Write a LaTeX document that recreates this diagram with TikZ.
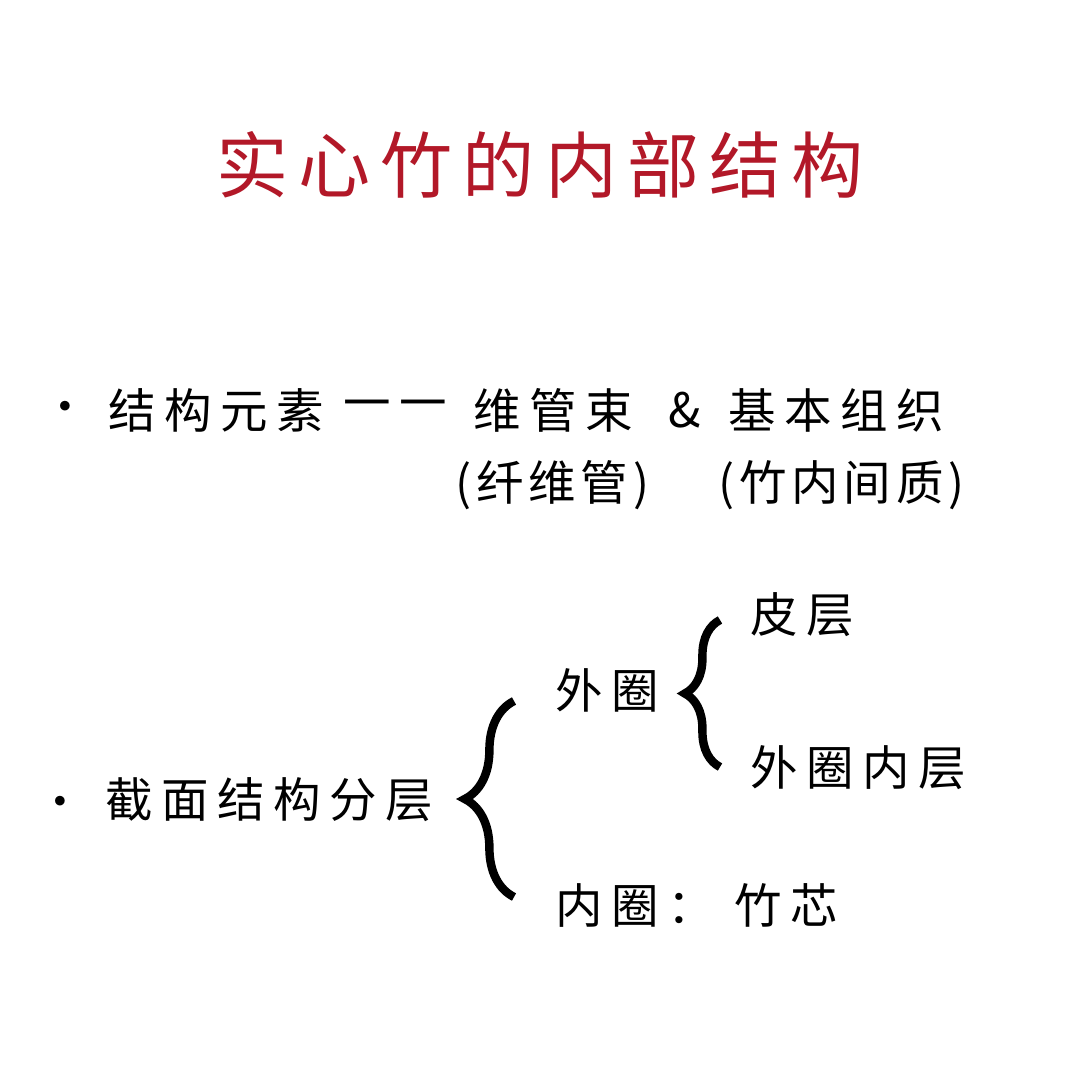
\documentclass[tikz,border=0pt]{standalone}
\usepackage{fontspec}
\setmainfont{Noto Sans CJK SC}
\usetikzlibrary{decorations.pathreplacing}
\definecolor{titlered}{RGB}{178,24,40}
\tikzset{body/.style={anchor=west,inner sep=0pt,font=\fontsize{13.5}{16}\selectfont\addfontfeature{LetterSpace=18}},
 paren/.style={body,font=\fontsize{13.5}{16}\selectfont\addfontfeature{LetterSpace=10}},
 dot/.style={anchor=center,inner sep=0pt,font=\fontsize{13}{14}\selectfont},
 brc/.style={decorate,decoration={brace,amplitude=#1},line width=2.4pt}}
\begin{document}
\begin{tikzpicture}[x=0.01cm,y=-0.01cm]
\useasboundingbox (0,0) rectangle (1080,1080);
\fill[white] (0,0) rectangle (1080,1080);
\node[inner sep=0pt,text=titlered,font=\fontsize{20.5}{24}\selectfont\addfontfeature{LetterSpace=14}] (title) at (540,165) {实心竹的内部结构};
\node[dot] (b1) at (65,412) {•};
\node[body] (l1a) at (108,410) {结构元素};
\node[body] (l1b) at (343,410) {一一};
\node[body] (l1c) at (473,410) {维管束};
\node[body] (l1d) at (668,410) {\&};
\node[body] (l1e) at (728,410) {基本组织};
\node[paren] (l2a) at (455,485) {(纤维管)};
\node[paren] (l2b) at (718,485) {(竹内间质)};
\node[dot] (b2) at (60,807) {•};
\node[body] (jm) at (105,800) {截面结构分层};
\node[body] (wq) at (555,690) {外圈};
\node[body] (pc) at (750,615) {皮层};
\node[body] (wn) at (750,768) {外圈内层};
\node[body] (nq) at (555,905) {内圈： 竹芯};
\draw[brc=14pt] (514,897) -- (514,701);
\draw[brc=10pt] (720,767) -- (720,620);
\end{tikzpicture}
\end{document}
